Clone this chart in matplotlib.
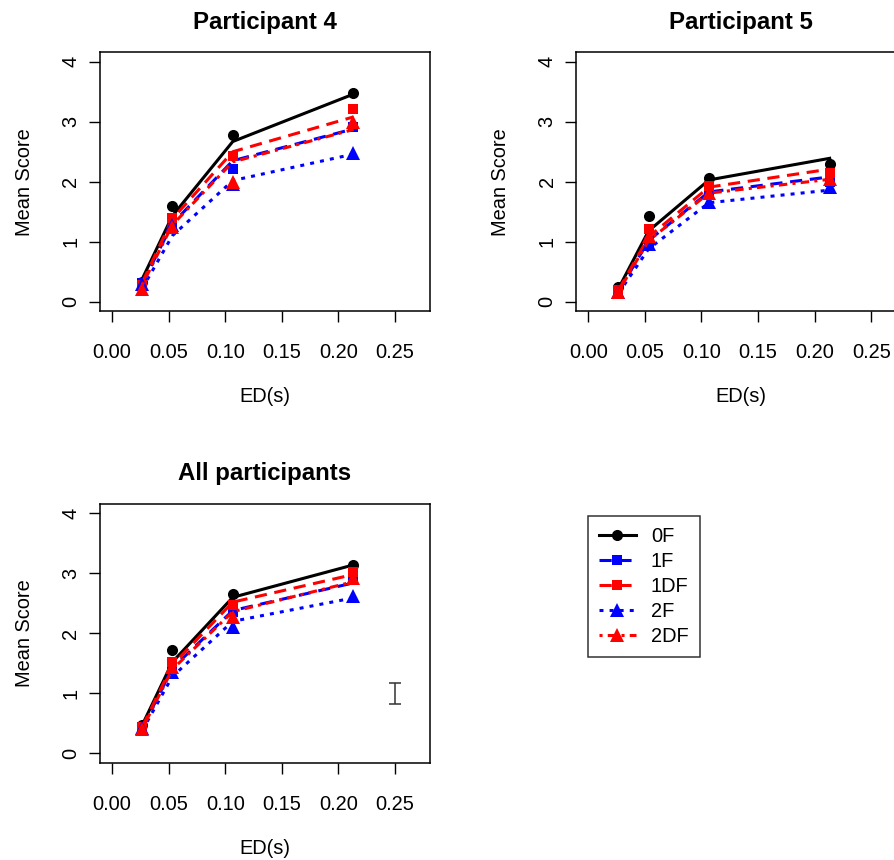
import numpy as np
import matplotlib.pyplot as plt

plt.rcParams['font.family'] = ['Liberation Sans', 'DejaVu Sans']

# ED(s) values
ed = [0.0267, 0.0533, 0.1067, 0.2133]

conditions = ['0F', '1F', '1DF', '2F', '2DF']
colors = ['black', 'blue', 'red', 'blue', 'red']
markers = ['o', 's', 's', '^', '^']
msizes = [8, 7, 7, 10, 10]
dashes = [None, (4, 2.5), (4, 2.5), (1.3, 2), (1, 1.7, 2.8, 1.7)]

# observed means (markers), rows follow `conditions`
p4_obs = [[0.33, 1.60, 2.78, 3.48],
          [0.32, 1.30, 2.21, 2.91],
          [0.28, 1.40, 2.43, 3.22],
          [0.30, 1.28, 1.97, 2.48],
          [0.22, 1.24, 2.00, 3.00]]
# fitted values (lines)
p4_fit = [[0.38, 1.43, 2.67, 3.46],
          [0.30, 1.30, 2.35, 2.88],
          [0.32, 1.38, 2.50, 3.08],
          [0.22, 1.10, 2.02, 2.46],
          [0.28, 1.28, 2.33, 2.87]]

p5_obs = [[0.24, 1.43, 2.06, 2.29],
          [0.18, 1.00, 1.83, 2.00],
          [0.20, 1.22, 1.93, 2.15],
          [0.17, 0.97, 1.67, 1.92],
          [0.17, 1.10, 1.81, 2.05]]
p5_fit = [[0.22, 1.18, 2.03, 2.39],
          [0.17, 1.02, 1.83, 2.08],
          [0.19, 1.08, 1.91, 2.21],
          [0.14, 0.88, 1.65, 1.86],
          [0.17, 1.02, 1.81, 2.04]]

all_obs = [[0.47, 1.73, 2.66, 3.14],
           [0.43, 1.45, 2.36, 2.89],
           [0.44, 1.53, 2.47, 3.03],
           [0.42, 1.36, 2.11, 2.62],
           [0.40, 1.44, 2.28, 2.92]]
all_fit = [[0.47, 1.52, 2.60, 3.14],
           [0.42, 1.42, 2.38, 2.84],
           [0.44, 1.47, 2.52, 2.98],
           [0.38, 1.28, 2.20, 2.59],
           [0.41, 1.40, 2.36, 2.86]]

# typical error bar shown in the pooled panel
err_x = 0.25
err_y = 1.0
err_half = 0.17

xticks = [0.00, 0.05, 0.10, 0.15, 0.20, 0.25]
yticks = [0, 1, 2, 3, 4]

fig = plt.figure(figsize=(8.95, 8.6), dpi=100)
W, H = 0.3688, 0.3014
ax1 = fig.add_axes([0.1115, 0.638, W, H])
ax2 = fig.add_axes([0.6436, 0.638, W, H])
ax3 = fig.add_axes([0.1115, 0.1129, W, H])


def draw_panel(ax, obs, fit, title):
    for i in range(len(conditions)):
        ln, = ax.plot(ed, fit[i], color=colors[i], lw=2.2)
        if dashes[i] is not None:
            ln.set_dashes(dashes[i])
        ax.plot(ed, obs[i], linestyle='none', marker=markers[i],
                color=colors[i], ms=msizes[i], mew=0)
    ax.set_xlim(-0.0108, 0.2808)
    ax.set_ylim(-0.16, 4.16)
    ax.set_xticks(xticks)
    ax.set_xticklabels(['%.2f' % v for v in xticks])
    ax.set_yticks(yticks)
    ax.set_yticklabels([str(v) for v in yticks], rotation=90, va='center')
    ax.tick_params(axis='both', length=8, width=1, labelsize=14.4)
    ax.tick_params(axis='x', pad=15)
    ax.tick_params(axis='y', pad=6)
    for s in ax.spines.values():
        s.set_linewidth(1.1)
    ax.set_xlabel('ED(s)', fontsize=14.4, labelpad=18)
    ax.set_ylabel('Mean Score', fontsize=14.4, labelpad=20)
    ax.set_title(title, fontsize=17.3, fontweight='bold', pad=17)


draw_panel(ax1, p4_obs, p4_fit, 'Participant 4')
draw_panel(ax2, p5_obs, p5_fit, 'Participant 5')
draw_panel(ax3, all_obs, all_fit, 'All participants')

ax3.errorbar([err_x], [err_y], yerr=[err_half], color='#333333',
             lw=1.1, capsize=4, capthick=1.1)

# legend built from the same styles
handles = []
for i in range(len(conditions)):
    h, = ax3.plot([], [], color=colors[i], lw=2.2, marker=markers[i],
                  ms=msizes[i], mew=0, label=conditions[i])
    if dashes[i] is not None:
        h.set_dashes(dashes[i])
    handles.append(h)
leg = fig.legend(handles=handles, loc='upper left',
                 bbox_to_anchor=(588 / 895, 1 - 516 / 860),
                 fontsize=14.4, frameon=True, fancybox=False,
                 edgecolor='black', handlelength=1.85, handletextpad=0.75,
                 labelspacing=0.3, borderpad=0.55, numpoints=1,
                 borderaxespad=0)
leg.get_frame().set_linewidth(1.1)

plt.savefig('out.png', dpi=100)
